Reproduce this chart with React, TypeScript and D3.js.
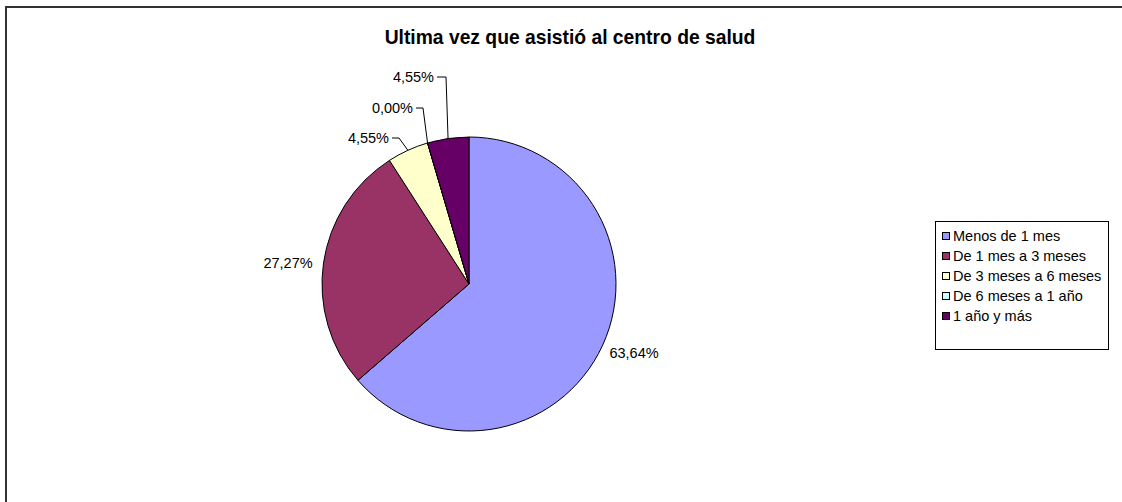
import React from "react";
import * as d3 from "d3";

const title = "Ultima vez que asistió al centro de salud";
const categories = [
  "Menos de 1 mes",
  "De 1 mes a 3 meses",
  "De 3 meses a 6 meses",
  "De 6 meses a 1 año",
  "1 año y más",
];
const values = [63.64, 27.27, 4.55, 0.0, 4.55];
const labels = ["63,64%", "27,27%", "4,55%", "0,00%", "4,55%"];
const colors = ["#9999FF", "#993366", "#FFFFCC", "#CCFFFF", "#660066"];

// label layout: [x, y, anchor, leader elbow x or null]
const labelLayout: [number, number, string, number | null][] = [
  [634, 353, "middle", null],
  [288, 263, "middle", null],
  [389, 138, "end", 399],
  [413, 108, "end", 423],
  [434, 77, "end", 446],
];

const W = 1122;
const H = 502;
const cx = 469;
const cy = 284;
const R = 147;

export default function App() {
  const pie = d3
    .pie<number>()
    .sort(null)
    .value((d) => d)(values);
  const arc = d3.arc<d3.PieArcDatum<number>>().innerRadius(0).outerRadius(R);
  const font = "'Liberation Sans', Arial, sans-serif";

  return (
    <svg
      width={W}
      height={H}
      style={{ position: "absolute", left: 0, top: 0, background: "#fff", overflow: "hidden" }}
      fontFamily={font}
    >
      <rect x={0} y={0} width={W} height={H} fill="#fff" />
      <path d={`M6,${H} L6,7 L${W},7`} fill="none" stroke="#333" strokeWidth={2} />
      <text x={570} y={44} textAnchor="middle" fontSize={19.3} fontWeight="bold" fill="#000">
        {title}
      </text>
      <g transform={`translate(${cx},${cy})`}>
        {pie.map((p, i) => (
          <path key={i} d={arc(p) || ""} fill={colors[i]} stroke="#000" strokeWidth={1} />
        ))}
      </g>
      {pie.map((p, i) => {
        const [lx, ly, anchor, elbow] = labelLayout[i];
        const mid = (p.startAngle + p.endAngle) / 2;
        const ax = cx + R * Math.sin(mid);
        const ay = cy - R * Math.cos(mid);
        return (
          <g key={i}>
            {elbow !== null && (
              <polyline
                points={`${lx + 3},${ly} ${elbow},${ly} ${ax},${ay}`}
                fill="none"
                stroke="#000"
                strokeWidth={1}
              />
            )}
            <text x={lx} y={ly + 5} textAnchor={anchor} fontSize={14.5} fill="#000">
              {labels[i]}
            </text>
          </g>
        );
      })}
      <g>
        <rect x={935.5} y={221.5} width={173} height={128} fill="#fff" stroke="#000" strokeWidth={1} />
        {categories.map((c, i) => (
          <g key={i} transform={`translate(942,${236 + i * 20})`}>
            <rect x={0.5} y={-3.5} width={7} height={7} fill={colors[i]} stroke="#000" strokeWidth={1} />
            <text x={11} y={5} fontSize={14.5} fill="#000">
              {c}
            </text>
          </g>
        ))}
      </g>
    </svg>
  );
}
